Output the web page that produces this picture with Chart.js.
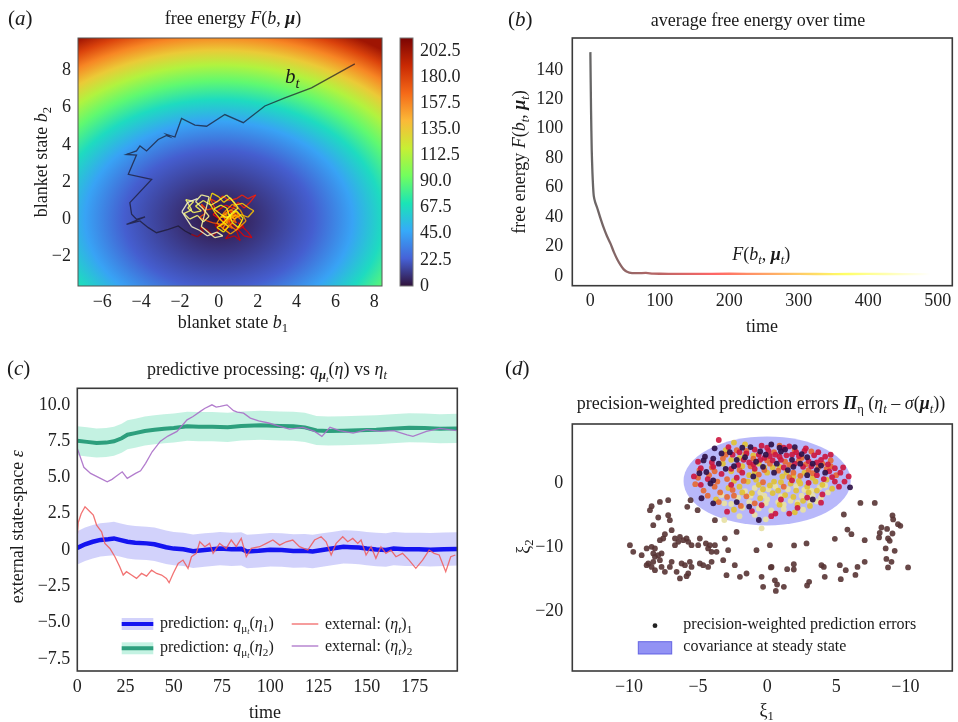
<!DOCTYPE html>
<html>
<head>
<meta charset="utf-8">
<script src="https://cdn.jsdelivr.net/npm/chart.js@4.4.1/dist/chart.umd.min.js"></script>
<style>
  body { margin: 0; background: #fff; width: 958px; height: 722px; position: relative; overflow: hidden; }
  canvas { position: absolute; }
</style>
</head>
<body>
<canvas id="chartA" width="480" height="340" style="left:0;top:0"></canvas>
<canvas id="chartB" width="478" height="340" style="left:480px;top:0"></canvas>
<canvas id="chartC" width="480" height="382" style="left:0;top:340px"></canvas>
<canvas id="chartD" width="478" height="382" style="left:480px;top:340px"></canvas>
<script>
// (a) free energy landscape: level values and their half-width along b1
const fieldCenter = [0, 0];
const fieldLevels = [0, 22.5, 45, 67.5, 90, 112.5, 135, 157.5, 180, 202.5];
const fieldRadii = [0, 4.87, 6.88, 8.43, 9.73, 10.88, 11.92, 12.88, 13.76, 14.6];
const fieldAspect = 0.763;
const colorbarMax = 213.5;
const colorbarTicks = [0, 22.5, 45, 67.5, 90, 112.5, 135, 157.5, 180, 202.5];

// blanket state trajectory: approach from top right, then settling near the mode
const trajApproachX = [7.0, 4.77, 3.40, 2.37, 1.26, 0.31, -0.63, -1.23, -1.92, -2.26, -2.69, -2.55, -2.69, -3.12, -3.72, -4.06, -4.24, -4.75, -4.24, -4.41, -4.66, -3.46, -4.58, -4.49, -4.24, -3.80, -4.75, -4.06, -3.63, -3.21, -2.60, -2.09, -1.74, -1.41];
const trajApproachY = [8.36, 7.07, 6.53, 6.09, 5.19, 5.63, 5.0, 5.06, 5.42, 4.42, 4.56, 4.45, 4.5, 4.29, 3.67, 3.94, 3.67, 3.48, 3.45, 3.04, 2.41, 2.14, 0.89, 0.26, -0.01, 0.12, -0.28, -0.10, -0.46, -0.73, -0.55, -0.37, -0.64, -0.82];
const trajSettleX = [-1.1, -0.8, -0.95, -0.6, -0.3, 0.0, -0.2, 0.3, 0.55, 0.35, 0.8, 1.1, 0.9, 1.3, 1.0, 1.5, 1.7, 1.3, 0.8, 0.5, 0.9, 0.6, 0.2, 0.4, 0.05, -0.3, 0.0, 0.35, 0.7, 1.0, 1.3, 1.6, 1.9, 1.5, 1.2, 0.9, 0.5, 0.2, -0.1, -0.45, -0.2, -0.6, -0.9, -0.7, -1.0, -0.6, -0.3,
    0.3, 0.7, 0.4, 0.9, 0.6, 1.1, 0.8, 0.3, 0.6, 0.0, 0.4, 0.8, 1.2, 0.9, 0.5, 0.2, 0.6, 1.0, 0.7, 0.3, -0.1, 0.3, 0.7, 1.1, 1.4, 1.0, 0.6, 0.2, 0.5, 0.9,
    0.1, 0.45, 0.8, 1.15, 1.5, 1.8, 1.55, 1.2, 0.85, 0.6, 0.25, 0.0, -0.35, -0.5, -0.2, 0.15, 0.5, 0.25, -0.1, 0.2, 0.55, 0.9, 1.25, 1.0, 0.7, 0.4, 0.1, -0.25, 0.05, 0.4, 0.7, 1.0, 0.75, 0.4, 0.0, -0.4, -0.8, -1.2, -0.9, -1.3, -1.6, -1.3, -1.7, -1.4, -1.8, -1.5, -1.1, -0.8, -0.5, -0.8, -1.2, -0.9, -0.5, -0.9, -0.5, -0.2, 0.2, -0.1, -0.6, -1.0, -1.4, -1.9, -1.6, -1.1];
const trajSettleY = [-0.95, -0.7, -0.45, -0.55, -0.9, -0.6, -0.3, -0.45, -0.8, -1.05, -0.9, -1.15, -0.6, -0.4, -0.2, -0.7, -1.0, -0.9, -0.35, -0.1, 0.2, 0.45, 0.2, -0.2, 0.0, 0.25, 0.5, 0.75, 0.6, 0.9, 0.6, 0.9, 1.3, 1.1, 1.3, 1.1, 1.0, 1.25, 0.9, 1.1, 0.6, 0.5, 0.8, 0.3, 0.1, -0.1, -0.2,
    -0.3, -0.5, 0.1, -0.2, 0.4, 0.1, 0.6, 0.3, -0.1, -0.4, 0.0, 0.3, -0.1, -0.6, -0.3, 0.2, 0.5, 0.3, -0.2, -0.6, -0.2, 0.4, 0.8, 0.5, -0.1, -0.5, -0.8, -0.5, 0.0, 0.2,
    0.1, 0.3, 0.0, 0.25, 0.1, 0.45, 0.6, 0.85, 0.75, 1.15, 0.9, 1.2, 1.4, 0.9, 0.35, -0.1, -0.4, -0.7, -0.45, -0.25, 0.15, 0.45, 0.05, -0.45, -0.2, 0.6, 0.75, 0.55, 0.3, 0.05, 0.35, 0.6, 0.95, 1.3, 1.0, 0.75, 1.0, 0.7, 0.45, 0.35, 0.6, 0.95, 1.05, 0.5, 0.3, 0.0, 0.2, -0.15, 0.15, 0.55, 0.95, 1.3, 1.2, -0.4, -0.75, -1.0, -0.9, -0.7, -0.9, -0.6, -0.4, 0.4, 0.9, 1.1];

// (b) average free energy over time
const freeT = [0, 1, 2, 3, 4, 5, 7, 10, 14, 19, 24, 29, 34, 39, 44, 48, 52, 56, 60, 70, 80, 90, 100, 125, 150, 200, 250, 300, 350, 400, 450, 490];
const freeF = [152, 112, 85, 70, 60, 54, 50, 46, 40, 33, 27, 22, 16, 11, 7, 4.5, 3, 2.3, 2.0, 1.9, 2.1, 1.6, 1.5, 1.4, 1.4, 1.5, 1.4, 1.4, 1.3, 1.4, 1.3, 1.3];

// (c) predictions (posterior mean, sd) and external states
const q1T = [0, 4, 8, 12, 16, 19, 22, 26, 30, 36, 40, 46, 50, 55, 60, 66, 70, 74, 80, 85, 88, 94, 100, 106, 112, 118, 122, 127, 132, 138, 142, 146, 150, 155, 160, 164, 170, 177, 183, 190, 197];
const q1Mean = [0.15, 0.4, 0.57, 0.7, 0.75, 0.8, 0.7, 0.57, 0.5, 0.46, 0.4, 0.19, 0.1, 0.05, -0.08, 0.0, 0.05, 0.1, 0.05, 0.08, -0.1, -0.05, 0.02, 0.0, -0.07, -0.05, -0.1, 0.0, 0.1, 0.22, 0.2, 0.17, 0.1, 0.04, 0.0, 0.1, 0.05, 0.05, 0.02, 0.06, 0.08];
const q1Sd = 1.15;
const q2T = [0, 5, 10, 15, 19, 23, 26, 30, 35, 40, 45, 50, 57, 63, 70, 78, 85, 95, 105, 112, 118, 124, 130, 138, 146, 155, 163, 172, 180, 188, 197];
const q2Mean = [7.53, 7.45, 7.37, 7.4, 7.49, 7.7, 7.94, 8.05, 8.2, 8.29, 8.35, 8.4, 8.52, 8.5, 8.5, 8.45, 8.55, 8.59, 8.55, 8.52, 8.45, 8.24, 8.2, 8.22, 8.25, 8.29, 8.35, 8.43, 8.4, 8.35, 8.38];
const q2Sd = 1.0;
const eta1T = [0, 0.5, 2, 4, 6.6, 8.3, 10, 12.6, 14.3, 16.9, 19.5, 22, 23.8, 25.5, 28.1, 30.7, 33.3, 35.9, 38.5, 41.1, 43.7, 46.2, 47.6, 49.7, 52.3, 54.8, 57.4, 59.2, 61.7, 63.5, 66.1, 68.6, 70.4, 73.8, 77.2, 79.8, 82.4, 85, 87.6, 90.2, 94.5, 98, 101.4, 104.9, 108.3, 111.7, 115.2, 119.5, 123, 126.4, 129, 131.6, 134.2, 137.6, 140.2, 142.8, 145.4, 147.1, 149.7, 152.3, 154.8, 157.4, 160, 162.6, 165.2, 168.6, 172, 175.5, 179, 182.4, 185, 187.6, 191, 193.6, 196];
const eta1 = [1.0, 1.9, 2.5, 2.98, 2.64, 2.41, 1.72, 1.26, 0.46, 0.11, -0.46, -1.15, -1.72, -1.49, -1.72, -1.95, -1.61, -1.8, -1.38, -1.61, -1.72, -1.95, -2.25, -1.61, -0.92, -0.69, -1.26, -0.46, -0.23, 0.57, 0.23, 0.46, -0.23, 0.46, 0.11, 0.69, 0.23, 0.8, -0.46, 0.11, 0.23, 0.46, 0.69, 0.34, 0.57, 0.69, 0.23, 0.0, 0.69, 0.92, 0.57, -0.34, 0.46, 0.92, 0.57, 0.8, 0.46, 0.69, -0.34, 0.23, -0.57, 0.23, -0.23, 0.0, -0.46, -0.23, -0.69, -1.26, -0.69, 0.0, -0.23, -0.34, -1.49, -0.46, -0.34];
const eta2T = [0, 0.9, 3.4, 6.9, 12, 15.5, 18, 19.8, 23.3, 25.9, 30.2, 32.8, 35.4, 38.8, 43.1, 47, 51.7, 56.9, 60, 63.8, 66, 69.8, 72, 74.1, 77.6, 81, 83, 86.2, 89.7, 94, 99.2, 105, 110, 117, 123, 126.8, 131, 136, 143, 150, 157, 164, 171, 174, 181, 188, 196.6];
const eta2 = [7.0, 6.66, 5.7, 5.28, 4.94, 4.7, 4.87, 5.05, 5.39, 4.94, 5.28, 5.46, 5.97, 6.77, 7.5, 7.85, 8.17, 8.97, 9.2, 9.55, 9.75, 10.0, 9.85, 9.9, 10.0, 9.6, 9.5, 9.43, 9.09, 8.9, 8.75, 8.52, 8.33, 8.45, 8.17, 7.83, 8.45, 8.22, 8.06, 8.29, 8.17, 8.22, 7.94, 7.83, 8.17, 8.38, 8.22];

// (d) precision-weighted prediction errors, grouped by colour (time)
const errEarly = [[-8.36,-3.64],[-7.76,-2.97],[-7.16,-2.70],[-8.48,-4.27],[-7.88,-5.41],[-7.16,-5.05],[-7.04,-5.83],[-8.24,-6.61],[-6.91,-7.39],[-7.40,-8.02],[-7.52,-8.69],[-7.76,-8.95],[-6.67,-8.69],[-6.31,-8.44],[-6.07,-8.95],[-5.83,-8.69],[-5.71,-9.22],[-6.43,-9.22],[-6.67,-9.73],[-4.87,-8.69],[-4.14,-9.73],[-4.43,-9.47],[-4.27,-10.25],[-3.78,-9.73],[-3.66,-10.78],[-4.02,-10.78],[-4.99,-9.73],[-5.47,-9.73],[-9.93,-9.73],[-9.69,-10.78],[-9.08,-11.30],[-8.72,-10.25],[-8.36,-10.0],[-8.12,-10.25],[-8.24,-11.03],[-8.12,-11.56],[-7.88,-11.30],[-7.64,-11.03],[-7.76,-12.08],[-8.24,-12.34],[-8.60,-12.6],[-8.36,-13.13],[-8.72,-12.86],[-8.12,-13.64],[-7.64,-13.13],[-7.40,-13.9],[-7.04,-13.13],[-6.91,-12.34],[-6.55,-13.9],[-6.19,-12.6],[-5.95,-12.86],[-5.59,-12.34],[-5.47,-13.13],[-5.71,-14.16],[-5.83,-14.58],[-6.31,-14.94],[-4.87,-12.6],[-4.63,-12.86],[-4.27,-13.13],[-4.02,-12.34],[-3.18,-12.08],[-2.82,-10.52],[-2.34,-12.86],[-2.94,-14.42],[-1.97,-14.69],[-1.49,-14.16],[-0.77,-10.52],[0.20,-9.73],[0.32,-13.13],[-0.29,-16.25],[-0.40,-14.69],[-3.78,-5.83],[-3.06,-8.69],[-2.21,-7.66],[-5.03,-4.27],[-5.54,-2.70],[-5.78,-3.75],[6.75,-3.13],[7.79,-3.13],[5.55,-4.94],[9.07,-5.09],[9.12,-5.72],[9.47,-6.45],[9.64,-6.72],[8.27,-6.97],[8.68,-7.19],[5.81,-7.3],[6.10,-8.02],[8.15,-7.81],[8.10,-8.53],[8.75,-8.69],[8.87,-9.06],[9.07,-7.91],[4.90,-8.75],[7.06,-8.95],[2.85,-9.47],[1.95,-9.78],[8.58,-10.25],[9.23,-10.62],[8.63,-11.88],[9.0,-12.34],[7.06,-12.34],[10.2,-13.22],[8.75,-13.22],[6.54,-13.13],[5.69,-13.64],[5.26,-12.86],[3.93,-12.86],[4.1,-13.13],[1.93,-12.7],[1.93,-13.54],[1.45,-13.48],[0.27,-13.22],[4.17,-14.69],[5.33,-15.05],[6.39,-14.38],[0.56,-15.23],[0.72,-15.88],[1.21,-16.25],[0.63,-16.88],[3.04,-15.47],[2.89,-16.04]];
const errDark = [[-4.5,4.1],[-3.8,5.4],[-3.9,3.8],[-4.6,3.5],[-4.4,1.7],[-3.5,3.0],[-3.0,2.2],[-0.5,4.9],[1.0,4.9],[-0.3,2.5],[-3.9,0.4],[-4.1,-0.1],[-4.75,-2.4],[-3.9,-3.2],[-1.3,-3.7],[-2.2,-3.0],[-0.6,-5.8],[2.5,4.5],[3.3,3.0],[1.5,2.0],[-1.8,5.5],[0.3,6.0],[2.0,5.6],[4.2,1.6],[-0.8,3.3],[3.3,-2.6],[6.0,-0.7],[1.8,3.6],[-1.0,1.0],[-2.7,4.8],[0.7,3.0],[2.9,4.0],[-2.2,3.6],[-1.2,5.6],[1.3,5.2],[2.4,3.0],[-3.3,4.6],[-0.1,4.4],[3.6,2.0],[0.5,1.6],[-1.6,4.0],[0.9,5.5],[3.9,2.7],[-2.4,2.6],[-4.9,1.5],[1.9,2.5],[2.9,1.2]];
const errRed = [[-3.5,6.7],[-2.5,4.4],[-1.5,4.6],[-0.9,5.2],[0.1,5.0],[0.6,4.4],[1.4,4.3],[2.1,4.8],[2.8,5.4],[3.4,4.3],[3.9,3.6],[4.4,2.9],[4.9,2.3],[5.3,1.6],[4.7,0.9],[5.6,0.2],[3.6,1.2],[2.6,2.5],[1.0,3.6],[-0.2,3.9],[-1.3,3.2],[-2.1,2.8],[-4.8,2.3],[-5.3,1.0],[-4.8,-0.3],[-2.6,-0.3],[-0.4,-3.5],[0.6,-4.8],[1.0,-2.6],[2.2,-3.9],[2.9,-2.3],[3.9,-3.1],[-1.8,1.6],[1.8,0.4],[-2.9,-4.5],[0.3,-5.2],[4.2,4.1],[3.0,3.4],[1.6,5.7],[-0.4,5.8],[4.9,0.2],[5.2,-0.6],[-3.3,1.4],[-2.8,5.6],[-1.7,3.6],[-0.6,4.4],[0.4,3.5],[1.2,5.5],[2.3,4.2],[3.7,4.8],[4.6,4.4],[5.5,2.4],[5.9,1.0],[4.1,0.6],[3.0,0.0],[-4.0,3.2],[-5.0,3.3],[-2.2,0.8],[1.6,-4.8],[-1.1,-4.4],[2.7,5.0],[0.9,4.1],[-0.9,2.2],[4.0,-1.8],[-3.9,2.5],[-2.6,2.2],[-1.0,2.9],[0.2,4.2],[1.8,4.4],[3.2,2.6],[4.5,1.8],[2.0,3.0],[-0.5,3.6],[-2.0,4.8],[1.2,2.4],[3.6,3.2],[-4.3,0.6],[0.0,5.5]];
const errOrange = [[-4.2,1.2],[-5.0,0.8],[-4.6,-1.2],[-3.8,-0.6],[-3.4,-1.5],[-2.9,0.6],[-2.5,-1.1],[-2.0,2.0],[-1.7,0.3],[-1.2,2.6],[-0.6,1.3],[0.2,3.0],[0.8,1.9],[1.6,2.8],[2.3,3.5],[3.0,2.0],[3.7,2.4],[4.3,2.2],[4.6,3.5],[3.2,4.9],[2.4,1.1],[-3.0,4.4],[-2.2,5.1],[-0.3,0.1],[1.2,-0.6],[-1.5,-2.1],[5.0,1.2],[2.0,5.1],[-4.0,2.4],[0.9,5.8],[-5.2,-0.2],[-4.3,-2.0],[-4.9,2.0],[-3.6,0.2],[-2.4,-2.0],[-0.2,2.0],[1.3,3.3],[2.8,2.9],[4.0,3.0],[3.3,1.5],[-1.0,3.8],[0.5,4.8],[-3.5,-3.0],[1.9,1.6],[-1.9,-3.6],[-3.2,3.8],[-1.5,5.0],[0.0,3.5],[2.5,3.9],[4.6,2.6],[-2.9,-2.2],[-0.9,-3.2],[1.6,0.9],[-3.8,1.8]];
const errYellow = [[-2.6,3.6],[-3.0,5.1],[-2.0,3.9],[-1.3,1.2],[-0.8,0.5],[0.0,1.6],[0.5,0.2],[1.1,1.0],[1.7,-0.1],[2.3,0.3],[2.9,-0.6],[3.6,-1.2],[4.0,-0.3],[3.3,0.8],[-0.3,-1.0],[0.4,-1.6],[1.3,-1.9],[2.1,-1.2],[-2.0,-0.6],[-2.6,1.8],[-3.7,-2.6],[-1.1,-1.6],[0.9,-3.4],[3.1,-3.6],[-2.4,-4.2],[2.0,-4.6],[-0.2,2.4],[-1.0,4.3],[4.7,-0.9],[2.6,-2.8],[-1.6,6.0],[-2.4,6.3],[-1.8,2.6],[-0.6,3.0],[0.9,2.5],[1.9,1.0],[2.7,1.6],[3.5,0.2],[-0.5,-2.4],[0.8,-1.2],[1.9,-2.2],[-2.8,-0.8],[-1.4,0.2],[0.2,-0.4],[-3.2,3.0],[2.2,-3.4],[-1.6,4.4],[-0.9,1.7],[0.4,2.4],[1.4,1.6],[2.4,-0.1],[3.0,-1.5],[-1.8,-1.5],[1.0,0.1],[-0.6,-0.3],[4.3,0.5],[-2.4,0.3]];
const errPale = [[-2.1,-2.3],[-1.3,-3.0],[-0.1,-3.2],[0.8,-3.0],[1.7,-2.8],[2.5,-2.0],[3.3,-2.0],[3.9,-2.3],[2.7,-1.1],[1.5,-1.0],[0.6,-0.6],[-0.9,-0.8],[-1.6,-1.3],[-3.1,-3.2],[-2.0,-5.2],[-0.9,-5.0],[1.2,-4.1],[0.3,-4.3],[2.6,-4.2],[4.4,-1.5],[3.8,-0.7],[-3.3,-1.9],[-0.6,-4.0],[-3.1,-5.8],[-0.4,-7.1],[-1.8,-3.9],[-0.2,-2.0],[1.2,-3.4],[2.1,-0.5],[3.1,-3.0],[-1.2,-2.0],[0.1,-1.0],[3.2,-1.2],[4.2,-0.4],[-0.1,-5.7],[-2.6,-3.3],[0.0,-2.6],[2.2,-3.1],[3.6,-2.9],[1.0,-2.1],[-0.5,-1.5]];
const covCenter = [0, 0.3];
const covRadii = [6.05, 6.95];

// ---------- helpers ----------
const FONT = '"Liberation Serif", "Times New Roman", serif';
const INK = '#1a1a1a';
Chart.defaults.font.family = FONT;
Chart.defaults.color = '#222';

function richFont(style, size) {
    return (style.includes('i') ? 'italic ' : '') + (style.includes('b') ? 'bold ' : '') + size + 'px ' + FONT;
}

// parts: [text, style]; style letters: i italic, b bold, s subscript, S sub-subscript
function drawRich(ctx, x, y, parts, size, align = 'center', angle = 0) {
    ctx.save();
    ctx.translate(x, y);
    ctx.rotate(angle);
    const base = size * 0.33;
    const runs = parts.map(([text, style = '']) => {
        let s = size, dy = base;
        if (style.includes('S')) { s = size * 0.5; dy = base + size * 0.38; }
        else if (style.includes('s')) { s = size * 0.7; dy = base + size * 0.22; }
        ctx.font = richFont(style, s);
        return { text, style, s, dy, w: ctx.measureText(text).width };
    });
    const total = runs.reduce((a, r) => a + r.w, 0);
    let cx = align === 'center' ? -total / 2 : (align === 'right' ? -total : 0);
    ctx.textAlign = 'left';
    ctx.textBaseline = 'alphabetic';
    ctx.fillStyle = INK;
    runs.forEach(r => {
        ctx.font = richFont(r.style, r.s);
        ctx.fillText(r.text, cx, r.dy);
        cx += r.w;
    });
    ctx.restore();
}

function hot(f, a) {
    const c = v => Math.round(255 * Math.min(1, Math.max(0, v)));
    return `rgba(${c(f / 0.365)},${c((f - 0.365) / 0.381)},${c((f - 0.746) / 0.254)},${a})`;
}

const turboStops = ['#30123b', '#4662d7', '#36aaf9', '#1ae4b6', '#72fe5e', '#c7ef34', '#fbb938', '#f56918', '#c92903', '#7a0403'];
function hexRgb(h) { return [1, 3, 5].map(i => parseInt(h.slice(i, i + 2), 16)); }
function turbo(f) {
    f = Math.min(1, Math.max(0, f)) * (turboStops.length - 1);
    const i = Math.min(Math.floor(f), turboStops.length - 2), u = f - i;
    const a = hexRgb(turboStops[i]), b = hexRgb(turboStops[i + 1]);
    return 'rgb(' + a.map((v, k) => Math.round(v + (b[k] - v) * u)).join(',') + ')';
}

const minus = v => String(v).replace('-', '\u2212');
const tickFont = { family: FONT, size: 18 };

function axis(min, max, step, pos, size, pad, cb) {
    const a = {
        type: 'linear', position: pos, min, max,
        grid: { display: false, drawTicks: false },
        border: { display: false },
        ticks: { stepSize: step, includeBounds: false, padding: pad, font: tickFont, color: '#222', callback: cb || minus },
    };
    if (pos === 'bottom') a.afterFit = s => { s.height = size; };
    else a.afterFit = s => { s.width = size; };
    return a;
}

function textPlugin(id, items) {
    return {
        id,
        afterDraw(chart) {
            items.forEach(t => drawRich(chart.ctx, t.x, t.y, t.parts, t.size, t.align || 'center', t.angle || 0));
        }
    };
}

const framePlugin = (color, width) => ({
    id: 'frame',
    afterDatasetsDraw(chart) {
        const { ctx, chartArea: a } = chart;
        ctx.save();
        ctx.strokeStyle = color;
        ctx.lineWidth = width;
        ctx.strokeRect(a.left, a.top, a.right - a.left, a.bottom - a.top);
        ctx.restore();
    }
});

const baseOpts = {
    responsive: false, animation: false, events: [],
    plugins: { legend: { display: false }, tooltip: { enabled: false } },
};

const pts = (xs, ys) => xs.map((x, i) => ({ x, y: ys[i] }));

// ---------- (a) ----------
const fieldPlugin = {
    id: 'field',
    beforeDatasetsDraw(chart) {
        const { ctx, chartArea: a, scales: { x, y } } = chart;
        const cx = x.getPixelForValue(fieldCenter[0]), cy = y.getPixelForValue(fieldCenter[1]);
        const pxX = x.getPixelForValue(1) - x.getPixelForValue(0);
        const pxY = y.getPixelForValue(0) - y.getPixelForValue(1);
        const k = fieldAspect * pxY / pxX;
        const rMax = fieldRadii[fieldRadii.length - 1] * pxX;
        ctx.save();
        ctx.beginPath();
        ctx.rect(a.left, a.top, a.right - a.left, a.bottom - a.top);
        ctx.clip();
        ctx.translate(cx, cy);
        ctx.scale(1, k);
        const g = ctx.createRadialGradient(0, 0, 0, 0, 0, rMax);
        fieldLevels.forEach((v, i) => g.addColorStop(fieldRadii[i] * pxX / rMax, turbo(v / colorbarMax)));
        ctx.fillStyle = g;
        ctx.fillRect(a.left - cx, (a.top - cy) / k, a.right - a.left, (a.bottom - a.top) / k);
        ctx.restore();

        // colour bar with its tick labels
        const cb = chart.scales.cb;
        const top = cb.getPixelForValue(colorbarMax), bottom = cb.getPixelForValue(0);
        const bx = a.right + 18;
        const lg = ctx.createLinearGradient(0, bottom, 0, top);
        turboStops.forEach((c, i) => lg.addColorStop(i / (turboStops.length - 1), c));
        ctx.save();
        ctx.fillStyle = lg;
        ctx.fillRect(bx, top, 13, bottom - top);
        ctx.strokeStyle = '#777';
        ctx.lineWidth = 1;
        ctx.strokeRect(bx, top, 13, bottom - top);
        ctx.fillStyle = '#222';
        ctx.font = '18px ' + FONT;
        ctx.textAlign = 'left';
        ctx.textBaseline = 'middle';
        colorbarTicks.forEach(v => ctx.fillText(v === 0 ? '0' : v.toFixed(1), bx + 20, cb.getPixelForValue(v)));
        ctx.restore();
    },
    afterDatasetsDraw(chart) {
        const { x, y } = chart.scales;
        drawRich(chart.ctx, x.getPixelForValue(3.78), y.getPixelForValue(7.7), [['b', 'i'], ['t', 'is']], 21);
    }
};

const settleAll = [{ x: trajApproachX[trajApproachX.length - 1], y: trajApproachY[trajApproachY.length - 1] }].concat(pts(trajSettleX, trajSettleY));

new Chart(document.getElementById('chartA'), {
    type: 'scatter',
    data: {
        datasets: [
            { data: settleAll, showLine: true, pointRadius: 0, borderWidth: 1.3, tension: 0,
              segment: { borderColor: c => hot(0.24 + 0.72 * c.p0DataIndex / (settleAll.length - 2), 0.85) } },
            { data: pts(trajApproachX, trajApproachY), showLine: true, pointRadius: 0, borderWidth: 1.3, tension: 0,
              borderColor: 'rgba(25,22,40,0.7)' },
        ]
    },
    options: {
        ...baseOpts,
        layout: { padding: { left: 18, right: 8, top: 38, bottom: 14 } },
        scales: {
            x: axis(-7.25, 8.4, 2, 'bottom', 40, 5),
            y: axis(-3.6, 9.75, 2, 'left', 60, 7),
            cb: { type: 'linear', position: 'right', min: 0, max: colorbarMax,
                  grid: { display: false, drawTicks: false }, border: { display: false },
                  ticks: { display: false }, afterFit: s => { s.width = 90; } },
        }
    },
    plugins: [fieldPlugin, framePlugin('#555', 1), textPlugin('labelsA', [
        { x: 8, y: 18, parts: [['('], ['a', 'i'], [')']], size: 21, align: 'left' },
        { x: 233, y: 18, parts: [['free energy '], ['F', 'i'], ['('], ['b', 'i'], [', '], ['\u03bc', 'bi'], [')']], size: 18 },
        { x: 233, y: 322, parts: [['blanket state '], ['b', 'i'], ['1', 's']], size: 18 },
        { x: 41, y: 162, parts: [['blanket state '], ['b', 'i'], ['2', 's']], size: 18, angle: -Math.PI / 2 },
    ])]
});

// ---------- (b) ----------
new Chart(document.getElementById('chartB'), {
    type: 'scatter',
    data: {
        datasets: [{
            data: pts(freeT, freeF), showLine: true, pointRadius: 0, borderWidth: 2.3, tension: 0.2,
            borderColor: c => {
                const { chart } = c;
                if (!chart.chartArea) return 'gray';
                const x = chart.scales.x;
                const g = chart.ctx.createLinearGradient(x.getPixelForValue(freeT[0]), 0, x.getPixelForValue(freeT[freeT.length - 1]), 0);
                [0, 0.1, 0.2, 0.365, 0.55, 0.746, 0.87, 1].forEach(f => g.addColorStop(f, hot(f, 0.6)));
                return g;
            }
        }]
    },
    options: {
        ...baseOpts,
        layout: { padding: { left: 32.3, right: 5.7, top: 38, bottom: 14.3 } },
        scales: {
            x: axis(-26, 521, 100, 'bottom', 40, 5),
            y: axis(-6.6, 161.6, 20, 'left', 60, 9, v => v > 150 ? '' : minus(v)),
        }
    },
    plugins: [framePlugin('#3a3a3a', 1.6), {
        id: 'curveLabel',
        afterDatasetsDraw(chart) {
            const { x, y } = chart.scales;
            drawRich(chart.ctx, x.getPixelForValue(246), y.getPixelForValue(15),
                [['F', 'i'], ['('], ['b', 'i'], ['t', 'is'], [', '], ['\u03bc', 'bi'], ['t', 'is'], [')']], 18);
        }
    }, textPlugin('labelsB', [
        { x: 28, y: 19, parts: [['('], ['b', 'i'], [')']], size: 21, align: 'left' },
        { x: 278, y: 20, parts: [['average free energy over time']], size: 18 },
        { x: 282, y: 326, parts: [['time']], size: 18 },
        { x: 39, y: 162, parts: [['free energy '], ['F', 'i'], ['('], ['b', 'i'], ['t', 'is'], [', '], ['\u03bc', 'bi'], ['t', 'is'], [')']], size: 18, angle: -Math.PI / 2 },
    ])]
});

// ---------- (c) ----------
const blue = '#1414f0', blueBand = 'rgba(90,90,240,0.27)';
const green = '#2d9f7d', greenBand = 'rgba(72,214,165,0.32)';
const red = 'rgba(240,90,90,0.85)', purple = 'rgba(170,110,200,0.9)';

const legendC = {
    id: 'legendC',
    afterDraw(chart) {
        const ctx = chart.ctx;
        [[284, blueBand, blue], [308.3, greenBand, green]].forEach(([y, band, line]) => {
            ctx.fillStyle = band;
            ctx.fillRect(121.7, y - 6, 31.6, 12);
            ctx.strokeStyle = line;
            ctx.lineWidth = 4;
            ctx.beginPath(); ctx.moveTo(121.7, y); ctx.lineTo(153.3, y); ctx.stroke();
        });
        [[284, red], [306, purple]].forEach(([y, c]) => {
            ctx.strokeStyle = c;
            ctx.lineWidth = 1.4;
            ctx.beginPath(); ctx.moveTo(291.7, y); ctx.lineTo(318.3, y); ctx.stroke();
        });
        drawRich(ctx, 160, 283, [['prediction: '], ['q', 'i'], ['\u03bc', 's'], ['t', 'iS'], ['('], ['\u03b7', 'i'], ['1', 's'], [')']], 16, 'left');
        drawRich(ctx, 160, 307, [['prediction: '], ['q', 'i'], ['\u03bc', 's'], ['t', 'iS'], ['('], ['\u03b7', 'i'], ['2', 's'], [')']], 16, 'left');
        drawRich(ctx, 325, 284, [['external: ('], ['\u03b7', 'i'], ['t', 'is'], [')'], ['1', 's']], 16, 'left');
        drawRich(ctx, 325, 306, [['external: ('], ['\u03b7', 'i'], ['t', 'is'], [')'], ['2', 's']], 16, 'left');
    }
};

new Chart(document.getElementById('chartC'), {
    type: 'scatter',
    data: {
        datasets: [
            { data: pts(q1T, q1Mean.map(m => m - q1Sd)), showLine: true, pointRadius: 0, borderWidth: 0, fill: false, order: 3 },
            { data: pts(q1T, q1Mean.map(m => m + q1Sd)), showLine: true, pointRadius: 0, borderWidth: 0, fill: 0, backgroundColor: blueBand, order: 3 },
            { data: pts(q2T, q2Mean.map(m => m - q2Sd)), showLine: true, pointRadius: 0, borderWidth: 0, fill: false, order: 3 },
            { data: pts(q2T, q2Mean.map(m => m + q2Sd)), showLine: true, pointRadius: 0, borderWidth: 0, fill: 2, backgroundColor: greenBand, order: 3 },
            { data: pts(q1T, q1Mean), showLine: true, pointRadius: 0, borderWidth: 4.5, borderColor: blue, order: 2 },
            { data: pts(q2T, q2Mean), showLine: true, pointRadius: 0, borderWidth: 4, borderColor: green, order: 2 },
            { data: pts(eta1T, eta1), showLine: true, pointRadius: 0, borderWidth: 1.3, borderColor: red, order: 1 },
            { data: pts(eta2T, eta2), showLine: true, pointRadius: 0, borderWidth: 1.3, borderColor: purple, order: 1 },
        ]
    },
    options: {
        ...baseOpts,
        layout: { padding: { left: 17.3, right: 22.7, top: 48.3, bottom: 11 } },
        scales: {
            x: axis(0, 197, 25, 'bottom', 40, 5),
            y: axis(-8.33, 11.14, 2.5, 'left', 60, 7, v => v === 0 ? '0' : minus(v.toFixed(1))),
        }
    },
    plugins: [framePlugin('#3a3a3a', 1.6), legendC, textPlugin('labelsC', [
        { x: 7, y: 28, parts: [['('], ['c', 'i'], [')']], size: 21, align: 'left' },
        { x: 267, y: 29, parts: [['predictive processing: '], ['q', 'i'], ['\u03bc', 'bis'], ['t', 'iS'], ['('], ['\u03b7', 'i'], [')'], [' vs '], ['\u03b7', 'i'], ['t', 'is']], size: 18 },
        { x: 265, y: 371.7, parts: [['time']], size: 18 },
        { x: 17.5, y: 186.7, parts: [['external state-space '], ['\u03b5', 'i']], size: 18, angle: -Math.PI / 2 },
    ])]
});

// ---------- (d) ----------
const covPlugin = {
    id: 'cov',
    beforeDatasetsDraw(chart) {
        const { ctx, scales: { x, y } } = chart;
        const cx = x.getPixelForValue(covCenter[0]), cy = y.getPixelForValue(covCenter[1]);
        const rx = x.getPixelForValue(covCenter[0] + covRadii[0]) - cx;
        const ry = cy - y.getPixelForValue(covCenter[1] + covRadii[1]);
        ctx.save();
        ctx.fillStyle = 'rgba(105,105,245,0.47)';
        ctx.beginPath();
        ctx.ellipse(cx, cy, rx, ry, 0, 0, Math.PI * 2);
        ctx.fill();
        ctx.restore();
    },
    afterDraw(chart) {
        const ctx = chart.ctx;
        ctx.save();
        ctx.fillStyle = '#222';
        ctx.beginPath(); ctx.arc(175, 285.7, 2.4, 0, Math.PI * 2); ctx.fill();
        ctx.fillStyle = 'rgba(110,110,240,0.75)';
        ctx.fillRect(158.3, 301.7, 33.4, 12.3);
        ctx.strokeStyle = 'rgba(90,90,225,0.9)';
        ctx.lineWidth = 1;
        ctx.strokeRect(158.3, 301.7, 33.4, 12.3);
        ctx.restore();
        drawRich(ctx, 203.3, 283.3, [['precision-weighted prediction errors']], 16, 'left');
        drawRich(ctx, 203.3, 306, [['covariance at steady state']], 16, 'left');
    }
};

const dots = (arr, color) => ({ data: arr.map(([x, y]) => ({ x, y })), pointRadius: 2.9, pointBorderWidth: 0, backgroundColor: color, pointBackgroundColor: color });

new Chart(document.getElementById('chartD'), {
    type: 'scatter',
    data: {
        datasets: [
            dots(errDark, 'rgba(45,15,70,0.9)'),
            dots(errRed, 'rgba(205,22,62,0.9)'),
            dots(errOrange, 'rgba(232,105,48,0.9)'),
            dots(errYellow, 'rgba(226,195,50,0.9)'),
            dots(errPale, 'rgba(232,226,165,0.95)'),
            dots(errEarly, 'rgba(88,52,52,0.9)'),
        ]
    },
    options: {
        ...baseOpts,
        layout: { padding: { left: 32.3, right: 5.7, top: 84, bottom: 11 } },
        scales: {
            x: axis(-14.1, 13.4, 5, 'bottom', 40, 5, v => v === 10 ? '\u221210' : minus(v)),
            y: axis(-29.4, 9.2, 10, 'left', 60, 9),
        }
    },
    plugins: [covPlugin, framePlugin('#3a3a3a', 1.6), textPlugin('labelsD', [
        { x: 25, y: 28, parts: [['('], ['d', 'i'], [')']], size: 21, align: 'left' },
        { x: 281, y: 63, parts: [['precision-weighted prediction errors '], ['\u03a0', 'bi'], ['\u03b7', 's'], [' ('], ['\u03b7', 'i'], ['t', 'is'], [' \u2013 '], ['\u03c3', 'i'], ['('], ['\u03bc', 'bi'], ['t', 'is'], ['))']], size: 18 },
        { x: 286.7, y: 370, parts: [['\u03be'], ['1', 's']], size: 18 },
        { x: 43, y: 206.7, parts: [['\u03be'], ['2', 's']], size: 18, angle: -Math.PI / 2 },
    ])]
});
</script>
</body>
</html>
